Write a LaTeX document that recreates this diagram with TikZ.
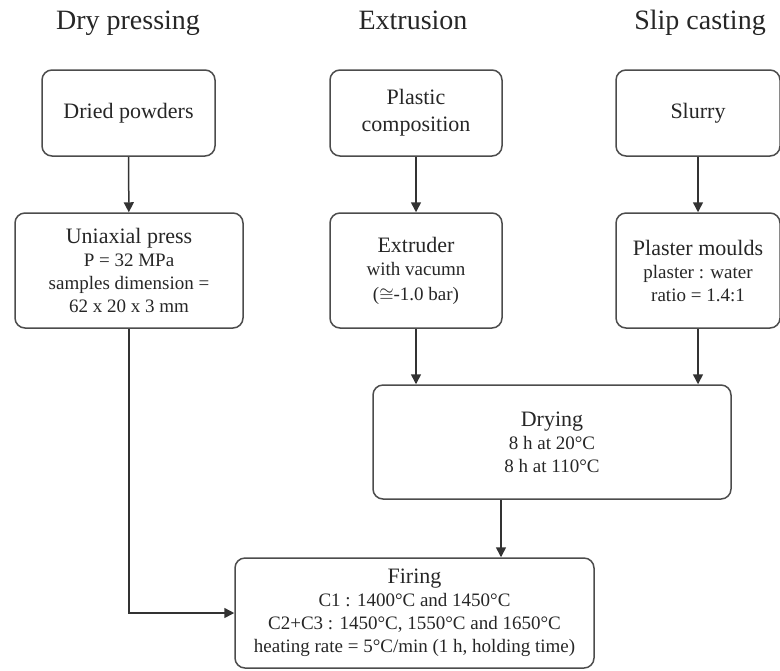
\documentclass[tikz,border=0pt]{standalone}
\usepackage{fontspec}
\setmainfont{Liberation Serif}
\usetikzlibrary{arrows.meta}
\newcommand{\mainsz}{\fontsize{11}{13.5}\selectfont}
\newcommand{\subsz}{\fontsize{9.5}{11.5}\selectfont}
\tikzset{heading/.style={
    font=\fontsize{14}{16}\selectfont,
    text=black!85,
    anchor=base
  },
  box/.style={
    draw=black!70,
    line width=0.75pt,
    rounded corners=5pt,
    align=center,
    inner sep=0pt,
    text=black!85,
    font=\mainsz
  },
  subbox/.style={
    box,
    font=\subsz
  },
  flow/.style={
    -{Triangle[length=5pt,width=5pt]},
    line width=0.75pt,
    draw=black!80
  }
}
\begin{document}
\begin{tikzpicture}[x=0.5pt,y=-0.5pt]
      \useasboundingbox (0,0) rectangle (780,670);
      \node[heading] (tdry) at (128,29) {Dry pressing};
      \node[heading] (textr) at (413,29) {Extrusion};
      \node[heading] (tslip) at (700,29) {Slip casting};
      \node[box,minimum width=86.5pt,minimum height=43pt] (powders) at (128.5,113) {Dried powders};
      \node[box,minimum width=86pt,minimum height=43pt] (plastic) at (416,113) {Plastic\\composition};
      \node[box,minimum width=82pt,minimum height=43pt] (slurry) at (698,113) {Slurry};
      \node[subbox,minimum width=114pt,minimum height=57.5pt] (press) at (129,270.5)
      {{\mainsz Uniaxial press}\\P = 32 MPa\\samples dimension =\\62 x 20 x 3 mm};
      \node[subbox,minimum width=86pt,minimum height=57.5pt] (extruder) at (416,270.5)
      {{\mainsz Extruder}\\with vacumn\\[1pt]($\cong$-1.0 bar)};
      \node[subbox,minimum width=82pt,minimum height=57.5pt] (moulds) at (698,270.5)
      {{\mainsz Plaster moulds}\\plaster : water\\ratio = 1.4:1};
      \node[subbox,minimum width=179pt,minimum height=57pt] (drying) at (552,442)
      {{\mainsz Drying}\\8 h at 20°C\\8 h at 110°C};
      \node[subbox,minimum width=179.5pt,minimum height=55pt] (firing) at (414.5,613)
      {{\mainsz Firing}\\C1 : 1400°C and 1450°C\\C2+C3 : 1450°C, 1550°C and 1650°C\\heating rate = 5°C/min (1 h, holding time)};
      \coordinate (dryout) at (501,0);
      \draw[flow] (powders) -- (press);
      \draw[flow] (plastic) -- (extruder);
      \draw[flow] (slurry) -- (moulds);
      \draw[flow] (extruder.south) -- (extruder.south |- drying.north);
      \draw[flow] (moulds.south) -- (moulds.south |- drying.north);
      \draw[flow] (dryout |- drying.south) -- (dryout |- firing.north);
      \draw[flow] (press.south) |- (firing.west);
    \end{tikzpicture}
\end{document}
